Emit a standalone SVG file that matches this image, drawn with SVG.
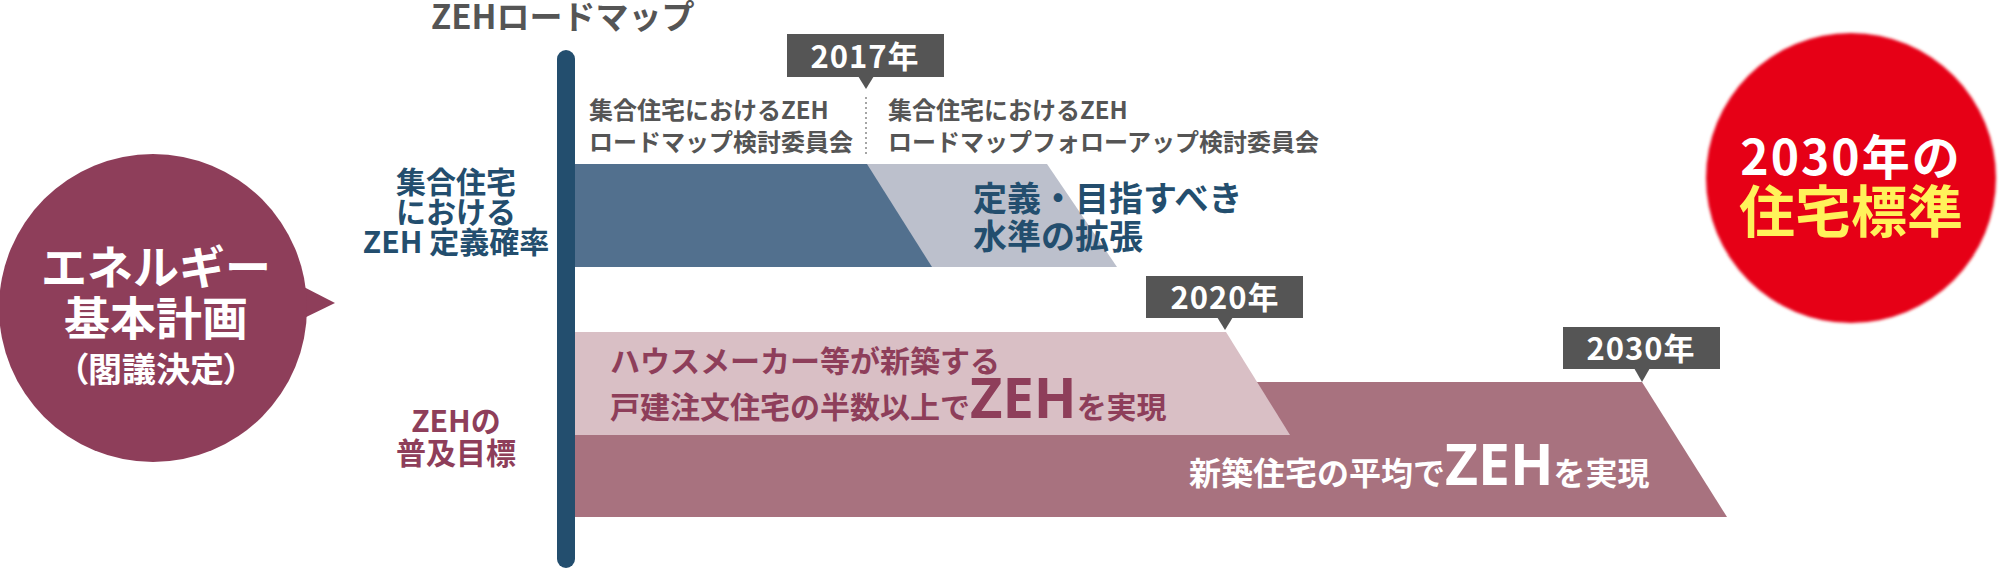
<svg xmlns="http://www.w3.org/2000/svg" width="2000" height="578" viewBox="0 0 2000 578">
<defs>
<style>
text{font-family:"Noto Sans CJK JP","Noto Sans",sans-serif;}
.b{font-weight:bold;}
.gray{fill:#555555;}
.navy{fill:#234e6e;}
.wine{fill:#8e3e5a;}
.white{fill:#ffffff;}
</style>
<filter id="soft" x="-10%" y="-10%" width="120%" height="120%"><feGaussianBlur stdDeviation="1.8"/></filter>
</defs>
<rect width="2000" height="578" fill="#ffffff"/>
<g id="title"><text x="431" y="29" font-size="33" class="b gray">ZEHロードマップ</text></g>
<g id="bands">
<polygon points="566,164 1047,164 1117,267 566,267" fill="#bcc0cc"/>
<polygon points="566,164 867,164 932,267 566,267" fill="#52708e"/>
<polygon points="566,382 1642,382 1727,517 566,517" fill="#a8727f"/>
<polygon points="566,332 1226,332 1290,435 566,435" fill="#d9bfc5"/>
</g>
<g id="connectors">
<line x1="866" y1="97" x2="866" y2="155" stroke="#888888" stroke-width="1.5" stroke-dasharray="2 3"/>
<polygon points="298,284 335,303 298,321" fill="#8e3e5a"/>
</g>
<g id="timeline-bar"><rect x="557" y="50" width="18" height="518" rx="9" fill="#234e6e"/></g>
<g id="energy-plan">
<circle cx="153" cy="308" r="154" fill="#8e3e5a"/>
<text x="156" y="284" font-size="46" text-anchor="middle" class="b white">エネルギー</text>
<text x="156" y="335" font-size="46" text-anchor="middle" class="b white">基本計画</text>
<text x="156" y="382" font-size="34" text-anchor="middle" class="b white" style="font-feature-settings:'palt'">（閣議決定）</text>
</g>
<g id="label-definition">
<text x="456" y="193" font-size="30" text-anchor="middle" class="b navy">集合住宅</text>
<text x="456" y="223" font-size="30" text-anchor="middle" class="b navy">における</text>
<text x="456" y="253" font-size="30" text-anchor="middle" class="b navy">ZEH 定義確率</text>
</g>
<g id="label-target">
<text x="456" y="432" font-size="30" text-anchor="middle" class="b wine">ZEHの</text>
<text x="456" y="464" font-size="30" text-anchor="middle" class="b wine">普及目標</text>
</g>
<g id="committee-1">
<text x="589" y="119" font-size="24" class="b gray">集合住宅におけるZEH</text>
<text x="589" y="151" font-size="24" class="b gray">ロードマップ検討委員会</text>
</g>
<g id="committee-2">
<text x="888" y="119" font-size="24" class="b gray">集合住宅におけるZEH</text>
<text x="888" y="151" font-size="24" class="b gray">ロードマップフォローアップ検討委員会</text>
</g>
<g id="year-2017">
<rect x="787" y="34" width="157" height="43" fill="#555555"/>
<polygon points="858,76 874,76 866,89" fill="#555555"/>
<text x="865" y="68" font-size="31" text-anchor="middle" class="b white" letter-spacing="1">2017年</text>
</g>
<g id="year-2020">
<rect x="1146" y="276" width="157" height="42" fill="#555555"/>
<polygon points="1217,317 1233,317 1225,330" fill="#555555"/>
<text x="1225" y="309" font-size="31" text-anchor="middle" class="b white" letter-spacing="1">2020年</text>
</g>
<g id="year-2030">
<rect x="1563" y="327" width="157" height="42" fill="#555555"/>
<polygon points="1634,368 1650,368 1642,382" fill="#555555"/>
<text x="1641" y="360" font-size="31" text-anchor="middle" class="b white" letter-spacing="1">2030年</text>
</g>
<g id="definition-expansion">
<text x="973" y="211" font-size="34" class="b navy">定義・目指すべき</text>
<text x="973" y="249" font-size="34" class="b navy">水準の拡張</text>
</g>
<g id="target-2020">
<text x="610" y="372" font-size="30" class="b wine">ハウスメーカー等が新築する</text>
<text x="610" y="418" font-size="30" class="b wine">戸建注文住宅の半数以上で<tspan font-size="56" font-family="'Noto Sans',sans-serif">ZEH</tspan>を実現</text>
</g>
<g id="target-2030">
<text x="1189" y="485" font-size="32" class="b white">新築住宅の平均で<tspan font-size="57" font-family="'Noto Sans',sans-serif">ZEH</tspan>を実現</text>
</g>
<g id="standard-2030">
<circle cx="1851" cy="178" r="145" fill="#e60012" filter="url(#soft)"/>
<text x="1851" y="175" font-size="48" text-anchor="middle" class="b white" letter-spacing="2">2030年の</text>
<text x="1851" y="232" font-size="56" text-anchor="middle" class="b" fill="#fff25a">住宅標準</text>
</g>
</svg>
